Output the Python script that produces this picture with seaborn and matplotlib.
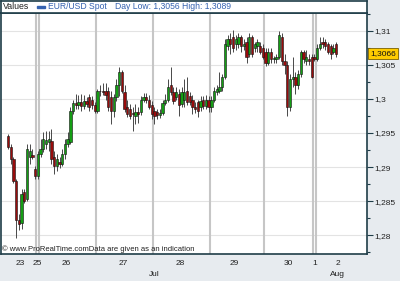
import numpy as np
import pandas as pd
import matplotlib
matplotlib.use("Agg")
import matplotlib.pyplot as plt
import matplotlib.transforms as mtransforms
from matplotlib.patches import Rectangle
from matplotlib.ticker import FixedLocator, MultipleLocator, FuncFormatter
import seaborn as sns

sns.set_style("white")
plt.rcParams['font.family'] = ['Liberation Sans', 'DejaVu Sans']

# ---------------- data (hourly EUR/USD candles) ----------------
open_ = [1.2946, 1.2930, 1.2912, 1.2879, 1.2822, 1.2818, 1.2863, 1.2854, 1.2915, 1.2918,
         1.2897, 1.2887,
         1.2919, 1.2927, 1.2934, 1.2937, 1.2938, 1.2915, 1.2901, 1.2908, 1.2905, 1.2919,
         1.2934, 1.2937, 1.2982, 1.2994, 1.2991, 1.2995, 1.2989, 1.2997, 1.3002, 1.2999, 1.2991,
         1.2982, 1.3011, 1.3012, 1.3011, 1.3011, 1.3002, 1.2982, 1.3002, 1.3021, 1.3040, 1.3010,
         1.2988, 1.2985, 1.2979, 1.2975, 1.2981, 1.2981, 1.2999, 1.3002, 1.2999, 1.2991,
         1.2982, 1.2981, 1.2976, 1.2979, 1.2994, 1.2999, 1.3020, 1.3010, 1.3002, 1.3007, 1.2992,
         1.2999, 1.3011, 1.3004, 1.2999, 1.2988, 1.2995, 1.2988, 1.2998, 1.2989, 1.2999,
         1.2988, 1.2999, 1.3010, 1.3012, 1.3017, 1.3032, 1.3078, 1.3087, 1.3091, 1.3080,
         1.3080, 1.3090, 1.3077, 1.3084, 1.3065, 1.3090, 1.3075, 1.3078, 1.3077, 1.3075,
         1.3069, 1.3053, 1.3069, 1.3058, 1.3058, 1.3062, 1.3091, 1.3055, 1.3050, 1.2988,
         1.3029, 1.3032, 1.3021, 1.3036, 1.3069, 1.3055, 1.3058, 1.3061,
         1.3062,
         1.3058, 1.3075, 1.3084, 1.3084, 1.3080, 1.3077, 1.3069, 1.3080]
high = [1.2949, 1.2934, 1.2915, 1.2883, 1.2832, 1.2868, 1.2868, 1.2934, 1.2934, 1.2927,
        1.2902, 1.2924,
        1.2941, 1.2952, 1.2953, 1.2953, 1.2956, 1.2924, 1.2919, 1.2915, 1.2927, 1.2941,
        1.2952, 1.2988, 1.2999, 1.3007, 1.3005, 1.3007, 1.3005, 1.3002, 1.3007, 1.3004, 1.2995,
        1.3014, 1.3021, 1.3023, 1.3023, 1.3017, 1.3011, 1.3007, 1.3029, 1.3046, 1.3043, 1.3021,
        1.2999, 1.2992, 1.2988, 1.2992, 1.2988, 1.3004, 1.3008, 1.3008, 1.3005, 1.2997,
        1.2988, 1.2985, 1.2985, 1.2999, 1.3007, 1.3029, 1.3046, 1.3017, 1.3017, 1.3014, 1.3017,
        1.3029, 1.3032, 1.3010, 1.3005, 1.2995, 1.2999, 1.3004, 1.3004, 1.3005, 1.3004,
        1.3004, 1.3017, 1.3021, 1.3039, 1.3036, 1.3087, 1.3094, 1.3097, 1.3101, 1.3094,
        1.3096, 1.3094, 1.3087, 1.3090, 1.3097, 1.3094, 1.3084, 1.3087, 1.3083, 1.3081,
        1.3075, 1.3075, 1.3074, 1.3063, 1.3065, 1.3099, 1.3096, 1.3065, 1.3055, 1.3036,
        1.3061, 1.3040, 1.3043, 1.3072, 1.3072, 1.3072, 1.3065, 1.3065,
        1.3065,
        1.3080, 1.3091, 1.3090, 1.3087, 1.3084, 1.3081, 1.3080, 1.3084]
low = [1.2927, 1.2905, 1.2876, 1.2796, 1.2808, 1.2810, 1.2847, 1.2850, 1.2905, 1.2912,
       1.2883, 1.2883,
       1.2915, 1.2922, 1.2927, 1.2924, 1.2905, 1.2890, 1.2895, 1.2898, 1.2901, 1.2912,
       1.2930, 1.2934, 1.2978, 1.2985, 1.2985, 1.2982, 1.2985, 1.2988, 1.2982, 1.2985, 1.2979,
       1.2979, 1.3004, 1.3005, 1.2999, 1.2982, 1.2963, 1.2973, 1.2997, 1.3004, 1.3008, 1.2981,
       1.2973, 1.2970, 1.2953, 1.2963, 1.2965, 1.2976, 1.2995, 1.2994, 1.2985, 1.2970,
       1.2963, 1.2970, 1.2972, 1.2976, 1.2991, 1.2995, 1.3005, 1.2992, 1.2999, 1.2975, 1.2988,
       1.2988, 1.2991, 1.2991, 1.2978, 1.2980, 1.2973, 1.2982, 1.2985, 1.2985, 1.2981,
       1.2981, 1.2995, 1.3005, 1.3008, 1.3011, 1.3029, 1.3072, 1.3065, 1.3069, 1.3072,
       1.3075, 1.3069, 1.3072, 1.3053, 1.3061, 1.3061, 1.3069, 1.3068, 1.3065, 1.3058,
       1.3048, 1.3049, 1.3053, 1.3053, 1.3053, 1.3058, 1.3049, 1.3036, 1.2975, 1.2982,
       1.3017, 1.3007, 1.3014, 1.3032, 1.3053, 1.3050, 1.3049, 1.3030,
       1.3055,
       1.3055, 1.3072, 1.3075, 1.3072, 1.3065, 1.3058, 1.3065, 1.3062]
close = [1.2930, 1.2912, 1.2879, 1.2822, 1.2816, 1.2861, 1.2851, 1.2927, 1.2924, 1.2915,
         1.2887, 1.2919,
         1.2927, 1.2941, 1.2940, 1.2941, 1.2912, 1.2901, 1.2912, 1.2905, 1.2919, 1.2934,
         1.2941, 1.2982, 1.2994, 1.2991, 1.2995, 1.2989, 1.2997, 1.2992, 1.2988, 1.2991, 1.2982,
         1.3011, 1.3012, 1.3010, 1.3005, 1.2988, 1.2982, 1.3002, 1.3021, 1.3040, 1.3012, 1.2985,
         1.2978, 1.2975, 1.2978, 1.2981, 1.2978, 1.2999, 1.3002, 1.2998, 1.2988, 1.2978,
         1.2975, 1.2976, 1.2979, 1.2994, 1.2999, 1.3018, 1.3010, 1.2997, 1.3010, 1.2991, 1.3010,
         1.3010, 1.2995, 1.2995, 1.2988, 1.2985, 1.2982, 1.2997, 1.2989, 1.2999, 1.2988,
         1.2999, 1.3011, 1.3014, 1.3017, 1.3032, 1.3080, 1.3087, 1.3081, 1.3075, 1.3087,
         1.3090, 1.3077, 1.3081, 1.3061, 1.3090, 1.3065, 1.3080, 1.3083, 1.3069, 1.3062,
         1.3053, 1.3069, 1.3058, 1.3060, 1.3062, 1.3094, 1.3055, 1.3049, 1.2988, 1.3029,
         1.3032, 1.3021, 1.3036, 1.3069, 1.3058, 1.3061, 1.3055, 1.3032,
         1.3058,
         1.3075, 1.3080, 1.3080, 1.3077, 1.3069, 1.3065, 1.3075, 1.3066]

day_bounds = [10.5, 11.5, 32.5, 53.5, 74.5, 94.5, 112.5, 113.5]
day_labels = ["23", "25", "26", "27", "28", "29", "30", "1", "2"]
day_label_pos = [4.5, 10.8, 21.5, 42.5, 63.5, 83.5, 103.5, 113.0, 121.5]
month_labels = ["Jul", "Aug"]
month_label_pos = [54.0, 121.5]
y_ticks = [1.28, 1.285, 1.29, 1.295, 1.30, 1.305, 1.31]
last_price = 1.3066
series_name = "EUR/USD Spot"
day_low, day_high = "1,3056", "1,3089"

df = pd.DataFrame({"open": open_, "high": high, "low": low, "close": close})
df["idx"] = np.arange(len(df))
df["up"] = df["close"] >= df["open"]
df["body_lo"] = df[["open", "close"]].min(axis=1)
df["body_h"] = (df["close"] - df["open"]).abs().clip(lower=0.00005)

BG = "#e7ebef"
FRAME = "#1f3d48"
BLUE = "#3562b0"

fig = plt.figure(figsize=(4.0, 2.81), dpi=100, facecolor=BG)
ax = fig.add_axes([1/400, 27/281, 366/400, 241/281])
ax.set_facecolor("white")

# day separators
for b in day_bounds:
    ax.axvline(b, color="#c6c6c6", lw=1.5, zorder=1)

# wicks and bodies
ax.vlines(df["idx"], df["low"], df["high"], color="#484848", lw=0.7, zorder=2)
colors = np.where(df["up"], "#149e14", "#980c0c")
ax.bar(df["idx"], df["body_h"], bottom=df["body_lo"], width=0.85,
       color=colors, edgecolor="#111111", linewidth=0.4, zorder=3)

ax.set_xlim(-2.58, 132.4)
ax.set_ylim(1.27727, 1.31258)

# y axis on the right
ax.yaxis.tick_right()
ax.yaxis.set_major_locator(FixedLocator(y_ticks))
ax.yaxis.set_minor_locator(MultipleLocator(0.0025))
ax.yaxis.set_major_formatter(FuncFormatter(lambda v, p: f"{round(v, 4):g}".replace(".", ",")))
ax.tick_params(axis="y", which="major", direction="out", length=4, width=0.8,
               color=FRAME, labelsize=6, pad=1.5, labelcolor="#222222")
ax.tick_params(axis="y", which="minor", direction="out", length=2.5, width=0.8, color=FRAME)
ax.yaxis.grid(True, which="major", color="#e3e3e3", lw=0.8, zorder=0)
ax.set_axisbelow(True)

# x axis: ticks at day separators, labels in between
ax.xaxis.set_major_locator(FixedLocator(day_bounds))
ax.xaxis.set_major_formatter(FuncFormatter(lambda v, p: ""))
ax.xaxis.set_minor_locator(FixedLocator(day_label_pos))
ax.set_xticklabels(day_labels, minor=True)
ax.tick_params(axis="x", which="major", direction="out", length=3, width=0.8, color=FRAME)
ax.tick_params(axis="x", which="minor", length=0, labelsize=6, pad=4.5, labelcolor="#222222")
ax.xaxis.grid(False)

trans = mtransforms.blended_transform_factory(ax.transData, ax.transAxes)
for lab, pos in zip(month_labels, month_label_pos):
    ax.text(pos, -0.087, lab, transform=trans, ha="center", va="center",
            fontsize=6, color="#222222")

for s in ax.spines.values():
    s.set_color(FRAME)
    s.set_linewidth(1.2)

# footer note
ax.text(0.004, 0.022, "\u00a9 www.ProRealTime.comData are given as an indication",
        transform=ax.transAxes, fontsize=5.5, va="center", ha="left", color="#202020")

# last price box
ptrans = mtransforms.blended_transform_factory(ax.transAxes, ax.transData)
ax.text(1.0 + 3/366, last_price, f"{last_price:.4f}".replace(".", ","), transform=ptrans,
        ha="left", va="center", fontsize=6, color="#111111",
        bbox=dict(boxstyle="square,pad=0.25", fc="#ffcc00", ec="#7a6000", lw=0.6))

# header strip
hax = fig.add_axes([1/400, 1 - 13/281, 366/400, 12.4/281])
hax.set_facecolor("white")
hax.set_xticks([])
hax.set_yticks([])
for s in hax.spines.values():
    s.set_color(FRAME)
    s.set_linewidth(1.2)
hax.set_xlim(0, 1)
hax.set_ylim(0, 1)
hax.text(0.004, 0.5, "Values", fontsize=6.3, va="center", ha="left", color="#222222")
hax.add_patch(Rectangle((0.098, 0.38), 0.022, 0.22, color=BLUE))
hax.text(0.128, 0.5, series_name, fontsize=6.2, va="center", ha="left", color=BLUE)
hax.text(0.311, 0.5, f"Day Low: {day_low} High: {day_high}", fontsize=6.2,
         va="center", ha="left", color=BLUE)

fig.savefig("out.png", dpi=100, facecolor=BG)
